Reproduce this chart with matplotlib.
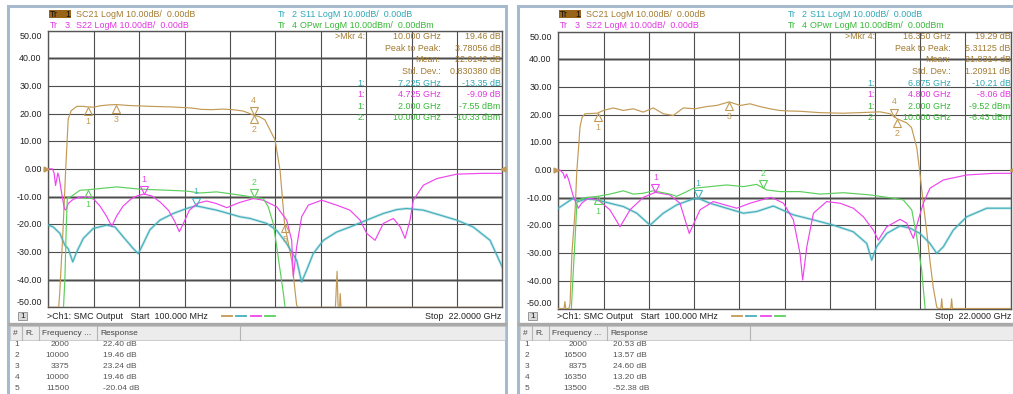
import numpy as np
import matplotlib
matplotlib.use("Agg")
import matplotlib.pyplot as plt
from matplotlib.patches import Rectangle
from matplotlib.transforms import offset_copy

plt.rcParams['font.family'] = ['Liberation Sans', 'DejaVu Sans']

W, H = 1013, 394

# sweep and display settings
F_START, F_STOP = 0.1, 22.0
DB_TOP, DB_BOTTOM = 50, -50
DB_GRID = [50, 40, 30, 20, 10, 0, -10, -20, -30, -40, -50]
DB_LABELS = ['50.00', '40.00', '30.00', '20.00', '10.00', '0.00',
             '-10.00', '-20.00', '-30.00', '-40.00', '-50.00']

# colours of the four traces
C_S21 = '#c39a55'
C_S11 = '#45b0bc'
C_S22 = '#ee45ee'
C_PWR = '#5ccf5c'
T_S21 = '#a27a30'
T_S11 = '#2ea8b6'
T_S22 = '#e135e1'
T_PWR = '#35b835'

# ---------------- left screen ----------------
L_S21_F = [0.1, 0.6, 0.65, 0.72, 0.81, 0.94, 1.06, 1.2, 1.48, 1.8, 2.0, 2.3, 2.6, 3.0, 3.375,
           4.0, 5.0, 6.0, 7.0, 7.5, 8.0, 8.5, 9.0, 9.5, 10.0, 10.3, 10.55, 11.04, 11.28, 11.5,
           11.84, 12.08, 12.15, 13.95, 14.03, 14.08, 14.15, 14.18, 14.22, 22.0]
L_S21_DB = [-50, -50, -45, -35, -22, 0, 18, 21, 22.6, 22.6, 22.4, 22.3, 22.8, 23.1, 23.24,
            22.9, 22.6, 22.4, 22.0, 21.5, 21.4, 21.6, 21.4, 20.9, 19.46, 18.8, 17.7, 10.4, -0.5, -20.04,
            -33, -49.3, -50, -50, -37, -50, -50, -45, -50, -50]

L_S22_F = [0.1, 0.3, 0.38, 0.45, 0.5, 0.56, 0.62, 0.75, 0.88, 0.95, 1.06, 1.3, 1.63, 2.0, 2.3,
           2.6, 2.9, 3.16, 3.4, 3.7, 4.1, 4.4, 4.725, 5.1, 5.5, 5.9, 6.2, 6.42, 6.6, 6.9, 7.3,
           7.74, 8.2, 8.71, 9.3, 9.99, 10.47, 11.12, 11.6, 11.84, 11.92, 12.08, 12.32, 12.64,
           13.29, 14.01, 14.65, 15.14, 15.46, 15.86, 16.26, 16.74, 17.07, 17.31, 17.55, 17.71,
           18.19, 18.84, 19.8, 21.08, 22.0]
L_S22_DB = [0, 0, -1.5, -6, -4, -1.5, -3, -9, -14.5, -14.8, -12.5, -11, -10.2, -10.1, -11,
            -13.5, -17, -20.7, -17, -13.5, -10.8, -9.7, -9.09, -9.8, -12, -15, -19, -22.7, -20, -15, -12.4,
            -11.6, -12.5, -14, -12.2, -10.7, -11.3, -13.7, -18.5, -25.8, -39, -28.2, -17.3, -13.1,
            -11.3, -13.1, -14.9, -18.5, -23.3, -25.8, -19.7, -17.9, -20.9, -25.1, -18.5, -11.3,
            -5.9, -3.5, -1.9, -1.6, -1.6]

L_S11_F = [0.1, 0.34, 0.66, 0.9, 1.06, 1.28, 1.47, 1.79, 2.27, 2.92, 3.32, 3.72, 4.2, 4.44,
           4.68, 5.0, 5.49, 6.13, 6.77, 7.225, 8.22, 9.35, 9.83, 10.64, 11.12, 11.6, 12.08,
           12.32, 12.56, 12.88, 13.37, 14.01, 14.65, 15.46, 16.26, 16.91, 17.39, 18.19, 19.0,
           19.8, 20.6, 21.41, 22.0]
L_S11_DB = [-20.3, -21, -23.3, -27.6, -28.8, -33.6, -30, -25.1, -21.5, -20.3, -21, -24.6, -28.8,
            -30.6, -27, -22, -18.5, -16.1, -14.3, -13.35, -14.9, -17.3, -17.9, -19.7, -22.2, -27,
            -33, -40.8, -36.6, -30.6, -25.8, -22.8, -21, -18.5, -16.1, -14.7, -14.3, -14.9, -16.7,
            -18.5, -21, -25.8, -35.5]

L_PWR_F = [0.8, 0.9, 0.97, 1.02, 1.2, 1.63, 2.0, 2.59, 3.4, 4.5, 5.8, 6.77, 7.42, 8.22, 9.0,
           9.65, 10.0, 10.47, 10.71, 10.95, 11.12, 11.28, 11.44, 11.52, 11.6]
L_PWR_DB = [-55, -40, -20, -10.5, -10, -7.7, -7.55, -7.1, -6.5, -7.3, -7.7, -8.0, -8.7, -8.3,
            -9.1, -9.8, -10.33, -10.7, -13.7, -19.7, -28.2, -36.6, -45, -50, -55]

# markers: (frequency GHz, number, drawn above the trace)
L_S21_MKR = [(2.0, 1, False), (10.0, 2, False), (3.375, 3, False), (10.0, 4, True), (11.5, 5, False)]
L_S22_MKR = [(4.725, 1, True)]
L_S11_MKR = [(7.225, 1, True)]
L_PWR_MKR = [(2.0, 1, False), (10.0, 2, True)]

L_READOUT = [('>Mkr 4:', '10.000 GHz', '19.46 dB', T_S21),
             ('', 'Peak to Peak:', '3.78056 dB', T_S21),
             ('', 'Mean:', '22.0142 dB', T_S21),
             ('', 'Std. Dev.:', '0.830380 dB', T_S21),
             ('1:', '7.225 GHz', '-13.35 dB', T_S11),
             ('1:', '4.725 GHz', '-9.09 dB', T_S22),
             ('1:', '2.000 GHz', '-7.55 dBm', T_PWR),
             ('2:', '10.000 GHz', '-10.33 dBm', T_PWR)]

L_TABLE_NUM = ['1', '2', '3', '4', '5']
L_TABLE_FREQ = ['2000', '10000', '3375', '10000', '11500']
L_TABLE_RESP = ['22.40 dB', '19.46 dB', '23.24 dB', '19.46 dB', '-20.04 dB']

# ---------------- right screen ----------------
R_S21_F = [0.1, 0.38, 0.42, 0.46, 0.62, 0.67, 0.76, 0.91, 1.0, 1.08, 1.15, 1.25, 1.39, 1.7, 2.0,
           2.28, 2.76, 3.25, 3.73, 4.21, 4.7, 5.18, 5.67, 6.15, 6.72, 7.28, 7.77, 8.375, 8.9,
           9.38, 9.86, 10.35, 10.8, 11.3, 11.8, 12.77, 13.9, 15.03, 15.67, 16.16, 16.35, 16.5,
           16.97, 17.2, 17.45, 17.61, 17.77, 17.93, 18.09, 18.25, 18.42, 18.5, 18.62, 18.66,
           18.7, 19.1, 19.14, 19.18, 22.0]
R_S21_DB = [-50, -50, -47.5, -50, -50, -48, -30, -15, 0, 8, 15.5, 19, 20.3, 20.4, 20.53,
            21.5, 22.4, 21.5, 22.1, 20.9, 22.4, 20.3, 19.7, 22.4, 22.1, 22.9, 23.3, 24.6, 23.3,
            23.9, 22.9, 22.1, 21.5, 21.3, 21.2, 20.7, 20.5, 20.8, 21.0, 20.3, 19.29, 18.5,
            17.0, 15.3, 8.2, -1.4, -12.2, -21.8, -32.7, -42.3, -49.5, -50, -50, -46.5,
            -50, -50, -46.5, -50, -50]

R_S22_F = [0.1, 0.18, 0.34, 0.42, 0.5, 0.6, 0.83, 1.07, 1.23, 1.55, 2.04, 2.6, 3.09, 3.57,
           4.21, 4.8, 5.5, 5.99, 6.44, 6.96, 7.6, 8.74, 9.38, 10.35, 10.51, 11.0, 11.48, 11.8,
           11.93, 12.13, 12.45, 13.09, 13.74, 14.38, 14.87, 15.35, 15.59, 16.0, 16.64, 16.97,
           17.29, 17.53, 17.77, 18.09, 18.74, 19.87, 21.16, 22.0]
R_S22_DB = [0, 0, -1.2, -3, -1.5, -3.5, -9.6, -13.8, -12, -10.2, -10.8, -14.4, -20.5, -14.4,
            -9.9, -8.06, -9, -12, -22.9, -14.4, -11.4, -13.8, -12, -9.9, -10.2, -12, -18, -30.1,
            -39.7, -27.7, -15.6, -11.4, -12, -13.8, -16.9, -21.7, -25.3, -20.5, -17.8, -19.2,
            -24.7, -18, -12, -6.6, -3.6, -1.8, -1.2, -1.2]

R_S11_F = [0.1, 0.34, 0.58, 0.83, 1.07, 1.47, 1.96, 2.6, 3.25, 3.9, 4.54, 5.18, 5.83, 6.64,
           6.875, 7.44, 8.25, 9.06, 9.7, 10.35, 10.51, 11.48, 12.45, 13.41, 14.38, 15.03, 15.27,
           15.51, 16.0, 16.64, 17.13, 17.61, 18.09, 18.42, 18.74, 19.22, 19.87, 20.84, 22.0]
R_S11_DB = [-13.8, -12.6, -11.4, -10.2, -11.4, -10.4, -10.8, -12, -13.2, -15.6, -19.9, -15.6,
            -12.6, -10.4, -10.21, -12, -13.8, -15.6, -15, -13.4, -13, -16.2, -18, -19.9, -22.3,
            -26.5, -32.5, -27.7, -22.9, -20.2, -21, -22.9, -26.5, -30.1, -27.7, -21.7, -16.9,
            -13.8, -13.8]

R_PWR_F = [0.7, 0.8, 0.91, 1.0, 1.07, 1.47, 2.0, 2.6, 3.25, 3.73, 4.21, 4.7, 5.5, 5.83, 6.32,
           6.64, 7.44, 8.25, 9.06, 9.7, 10.0, 10.19, 10.83, 11.8, 12.77, 13.9, 15.2, 16.32,
           16.8, 17.21, 17.45, 17.69, 17.85, 17.9]
R_PWR_DB = [-55, -40, -25, -12, -10.8, -9.9, -9.52, -8.7, -7.5, -8.7, -8.4, -7.5, -8.7, -9.5,
            -7.8, -6.6, -6.0, -5.4, -6.0, -5.2, -6.43, -7.2, -7.8, -7.8, -8.7, -8.2, -9.0,
            -10.2, -10.8, -14.4, -24.1, -36.1, -49.4, -55]

# marker 5 of the right S21 trace (13.5 GHz, -52.38 dB) lies below the display floor
R_S21_MKR = [(2.0, 1, False), (16.5, 2, False), (8.375, 3, False), (16.35, 4, True)]
R_S22_MKR = [(4.8, 1, True)]
R_S11_MKR = [(6.875, 1, True)]
R_PWR_MKR = [(2.0, 1, False), (10.0, 2, True)]

R_READOUT = [('>Mkr 4:', '16.350 GHz', '19.29 dB', T_S21),
             ('', 'Peak to Peak:', '5.31125 dB', T_S21),
             ('', 'Mean:', '21.8314 dB', T_S21),
             ('', 'Std. Dev.:', '1.20911 dB', T_S21),
             ('1:', '6.875 GHz', '-10.21 dB', T_S11),
             ('1:', '4.800 GHz', '-8.06 dB', T_S22),
             ('1:', '2.000 GHz', '-9.52 dBm', T_PWR),
             ('2:', '10.000 GHz', '-6.43 dBm', T_PWR)]

R_TABLE_NUM = ['1', '2', '3', '4', '5']
R_TABLE_FREQ = ['2000', '16500', '8375', '16350', '13500']
R_TABLE_RESP = ['20.53 dB', '13.57 dB', '24.60 dB', '13.20 dB', '-52.38 dB']

fig = plt.figure(figsize=(W / 100, H / 100), dpi=100)
fig.patch.set_facecolor('white')

FS = 6.4


def fx(x):
    return x / W


def fy(y):
    return 1 - y / H


def text(x, y, s, color='#222222', ha='left', size=FS, **kw):
    # glyph centre sits a little below the layout-box centre
    fig.text(fx(x), fy(y + 0.7), s, color=color, ha=ha, va='center', fontsize=size, **kw)


def rect(x0, y0, x1, y1, fc='none', ec='none', lw=0.0, z=0):
    fig.add_artist(Rectangle((fx(x0), fy(y1)), (x1 - x0) / W, (y1 - y0) / H,
                             transform=fig.transFigure, facecolor=fc, edgecolor=ec,
                             linewidth=lw, zorder=z))


def hline(x0, x1, y, color, lw):
    fig.add_artist(plt.Line2D([fx(x0), fx(x1)], [fy(y), fy(y)], transform=fig.transFigure,
                              color=color, linewidth=lw))


def vline(x, y0, y1, color, lw):
    fig.add_artist(plt.Line2D([fx(x), fx(x)], [fy(y0), fy(y1)], transform=fig.transFigure,
                              color=color, linewidth=lw))


def draw_marker(ax, f, v, n, above, color):
    ms = 5.8
    sign = 1 if above else -1
    tr = offset_copy(ax.transData, fig=fig, x=0, y=sign * ms / 2, units='points')
    ax.plot([f], [v], marker='v' if above else '^', ms=ms, mfc='none', mec=color,
            mew=0.8, transform=tr, clip_on=False, zorder=6)
    ax.annotate(str(n), (f, v), xytext=(0, sign * (ms + 4.8)), textcoords='offset points',
                ha='center', va='center', fontsize=6.3, color=color, zorder=6,
                annotation_clip=False)


def draw_screen(dx, box, traces, readout, table, thick_rows, freq_right, resp_left):
    x0, y0, x1, y1 = box

    # panel frame
    rect(dx + 8, 6, dx + 506, 400, ec='#a7bacd', lw=2.2, z=0)

    ax = fig.add_axes([fx(x0), fy(y1), (x1 - x0) / W, (y1 - y0) / H])
    ax.set_xlim(F_START, F_STOP)
    ax.set_ylim(DB_BOTTOM, DB_TOP)
    ax.set_xticks(np.linspace(F_START, F_STOP, 11))
    ax.set_yticks(DB_GRID)
    ax.tick_params(length=0, labelbottom=False, labelleft=False)
    ax.grid(True, color='#4d4d4d', linewidth=0.8)
    for v in thick_rows:
        ax.axhline(v, color='#9c9c9c', linewidth=1.9, zorder=1)
    for s in ax.spines.values():
        s.set_color('#555555')
        s.set_linewidth(1.0)

    # y labels, top and bottom ones pulled inside the graticule
    ylab_tr = ax.get_yaxis_transform()
    for v, lab in zip(DB_GRID, DB_LABELS):
        shift = -5.5 if v == DB_TOP else (5.6 if v == DB_BOTTOM else 0)
        tr = offset_copy(ylab_tr, fig=fig, x=-6.6, y=shift - 0.6, units='dots')
        ax.text(0, v, lab, transform=tr, ha='right', va='center', fontsize=FS,
                color='#222222', clip_on=False)

    # reference level arrows at 0 dB
    ax.plot([F_START], [0], marker='>', ms=3.5, color=C_S21, clip_on=False, zorder=7,
            transform=offset_copy(ax.transData, fig=fig, x=-2.5, units='dots'))
    ax.plot([F_STOP], [0], marker='<', ms=3.5, color=C_S21, clip_on=False, zorder=7,
            transform=offset_copy(ax.transData, fig=fig, x=1.0, units='dots'))

    for f, v, color, mkrs, fuzzy in traces:
        if fuzzy:
            ax.plot(f, v, color=color, lw=2.0, alpha=0.3, zorder=4)
        ax.plot(f, v, color=color, lw=0.85, zorder=5)
        for mf, n, above in mkrs:
            draw_marker(ax, mf, float(np.interp(mf, f, v)), n, above, color)

    # header lines
    rect(dx + 48.6, 9.8, dx + 71.4, 17.9, fc='#98641a', z=2)
    text(dx + 49.8, 13.9, 'Tr', color='#111111')
    text(dx + 65.0, 13.9, '1', color='#111111')
    text(dx + 76, 13.9, 'SC21 LogM 10.00dB/  0.00dB', color=T_S21)
    text(dx + 49.8, 24.3, 'Tr', color=T_S22)
    text(dx + 65.0, 24.3, '3', color=T_S22)
    text(dx + 76, 24.3, 'S22 LogM 10.00dB/  0.00dB', color=T_S22)
    text(dx + 278.3, 13.9, 'Tr', color=T_S11)
    text(dx + 291.5, 13.9, '2', color=T_S11)
    text(dx + 300, 13.9, 'S11 LogM 10.00dB/  0.00dB', color=T_S11)
    text(dx + 278.3, 24.3, 'Tr', color=T_PWR)
    text(dx + 291.5, 24.3, '4', color=T_PWR)
    text(dx + 300, 24.3, 'OPwr LogM 10.00dBm/  0.00dBm', color=T_PWR)

    # marker readout
    for i, (c1, c2, c3, color) in enumerate(readout):
        yy = 36 + i * 11.6
        if c1:
            text(dx + 365, yy, c1, color=color, ha='right')
        text(dx + 440.5, yy, c2, color=color, ha='right')
        text(dx + 500.5, yy, c3, color=color, ha='right')

    # channel status line
    rect(dx + 18, 311.5, dx + 26.7, 319.8, fc='#d9d9d9', ec='#8a8a8a', lw=0.6, z=2)
    text(dx + 20.2, 315.5, '1', color='#222222', size=6)
    text(dx + 46.7, 315.5, '>Ch1: SMC Output   Start  100.000 MHz', color='#222222')
    for i, c in enumerate([C_S21, C_S11, C_S22, C_PWR]):
        hline(dx + 221.7 + i * 14.5, dx + 231.5 + i * 14.5, 316, c, 1.3)
    text(dx + 501, 315.5, 'Stop  22.0000 GHz', color='#222222', ha='right')

    # marker table
    hline(dx + 9, dx + 505, 323.6, '#a9a9a9', 2.4)
    rect(dx + 9.5, 326, dx + 505, 339.5, fc='#ececec', ec='#c4c4c4', lw=0.6, z=1)
    for sx in [21.7, 39.3, 96.7, 240]:
        vline(dx + sx, 326, 339.5, '#b4b4b4', 0.8)
    text(dx + 13, 332.6, '#', color='#444444', size=6)
    text(dx + 25.5, 332.6, 'R.', color='#444444', size=6)
    text(dx + 42, 332.6, 'Frequency ...', color='#444444', size=6)
    text(dx + 100.5, 332.6, 'Response', color='#444444', size=6)
    nums, freqs, resps = table
    for i, (a, b, c) in enumerate(zip(nums, freqs, resps)):
        yy = 344.0 + i * 11.0
        text(dx + 14.5, yy, a, color='#555555', size=6)
        text(freq_right, yy, b, color='#555555', size=6, ha='right')
        text(resp_left, yy, c, color='#555555', size=6)
    return ax


draw_screen(0, (48.3, 30.5, 502.3, 307.3),
            [(L_S21_F, L_S21_DB, C_S21, L_S21_MKR, False),
             (L_S11_F, L_S11_DB, C_S11, L_S11_MKR, True),
             (L_S22_F, L_S22_DB, C_S22, L_S22_MKR, False),
             (L_PWR_F, L_PWR_DB, C_PWR, L_PWR_MKR, False)],
            L_READOUT, (L_TABLE_NUM, L_TABLE_FREQ, L_TABLE_RESP),
            [40, -10, -40], 69, 102.7)

draw_screen(510, (558.3, 31.5, 1010.7, 308.5),
            [(R_S21_F, R_S21_DB, C_S21, R_S21_MKR, False),
             (R_S11_F, R_S11_DB, C_S11, R_S11_MKR, True),
             (R_S22_F, R_S22_DB, C_S22, R_S22_MKR, False),
             (R_PWR_F, R_PWR_DB, C_PWR, R_PWR_MKR, False)],
            R_READOUT, (R_TABLE_NUM, R_TABLE_FREQ, R_TABLE_RESP),
            [40, -10], 587, 612.7)

fig.savefig('out.png', dpi=100, facecolor='white')
